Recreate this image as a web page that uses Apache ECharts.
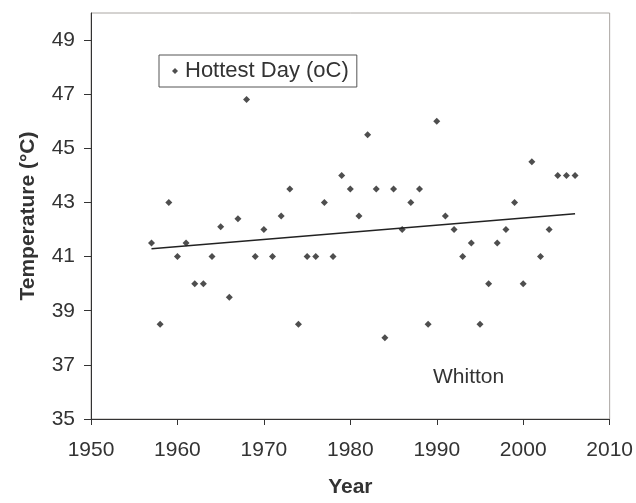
<!DOCTYPE html>
<html>
<head>
<meta charset="utf-8">
<script src="https://cdn.jsdelivr.net/npm/echarts@6/dist/echarts.min.js"></script>
<style>html,body{margin:0;padding:0;background:#fff}#c{width:636px;height:503px}</style>
</head>
<body>
<div id="c"></div>
<script>
const years = [1957,1958,1959,1960,1961,1962,1963,1964,1965,1966,1967,1968,1969,1970,1971,1972,1973,1974,1975,1976,1977,1978,1979,1980,1981,1982,1983,1984,1985,1986,1987,1988,1989,1990,1991,1992,1993,1994,1995,1996,1997,1998,1999,2000,2001,2002,2003,2004,2005,2006];
const hottest = [41.5,38.5,43,41,41.5,40,40,41,42.1,39.5,42.4,46.8,41,42,41,42.5,43.5,38.5,41,41,43,41,44,43.5,42.5,45.5,43.5,38,43.5,42,43,43.5,38.5,46,42.5,42,41,41.5,38.5,40,41.5,42,43,40,44.5,41,42,44,44,44];
const yTicks = [35,37,39,41,43,45,47,49];
const xTicks = [1950,1960,1970,1980,1990,2000,2010];
const seriesName = 'Hottest Day (oC)';
const siteLabel = 'Whitton';

// least-squares trend line
const n = years.length;
const mx = years.reduce((a,b)=>a+b,0)/n;
const my = hottest.reduce((a,b)=>a+b,0)/n;
let sxy=0, sxx=0;
for (let i=0;i<n;i++){ sxy += (years[i]-mx)*(hottest[i]-my); sxx += (years[i]-mx)*(years[i]-mx); }
const slope = sxy/sxx, icpt = my - slope*mx;
const x0 = years[0], x1 = years[n-1];
const trend = [[x0, icpt+slope*x0],[x1, icpt+slope*x1]];

const FONT = 'Liberation Sans';
const chart = echarts.init(document.getElementById('c'), null, {renderer:'canvas'});
chart.setOption({
  animation:false,
  backgroundColor:'#fff',
  textStyle:{fontFamily:FONT},
  grid:{left:91,right:25,top:13,bottom:81,show:true,borderColor:'#aaa6a2',borderWidth:1,backgroundColor:'transparent'},
  legend:{
    left:159, top:55, padding:[5,8,5,13], borderColor:'#555', borderWidth:1,
    itemWidth:6, itemHeight:6, itemGap:0,
    textStyle:{fontSize:22,color:'#333',fontFamily:FONT,padding:[0,0,0,2]},
    data:[{name:seriesName, icon:'diamond'}]
  },
  xAxis:{
    type:'value', min:1950, max:2010, interval:10,
    name:'Year', nameLocation:'middle', nameGap:58,
    nameTextStyle:{fontSize:21,fontWeight:'bold',color:'#333',fontFamily:FONT},
    axisLine:{show:true,lineStyle:{color:'#333',width:1}},
    axisTick:{show:true,length:6,lineStyle:{color:'#333'},customValues:xTicks},
    axisLabel:{fontSize:21,color:'#333',margin:21,customValues:xTicks,formatter:v=>String(v)},
    splitLine:{show:false}
  },
  yAxis:{
    type:'value', min:35, max:50, interval:2,
    name:'Temperature (°C)', nameLocation:'middle', nameGap:52,
    nameTextStyle:{fontSize:21,fontWeight:'bold',color:'#333',fontFamily:FONT},
    axisLine:{show:true,lineStyle:{color:'#333',width:1}},
    axisTick:{show:true,length:7,lineStyle:{color:'#333'},customValues:yTicks},
    axisLabel:{fontSize:21,color:'#333',margin:16,customValues:yTicks,formatter:v=>String(v)},
    splitLine:{show:false}
  },
  graphic:[{type:'text',left:433,top:367,style:{text:siteLabel,fontSize:21,fill:'#333',fontFamily:FONT}}],
  series:[
    {name:seriesName,type:'scatter',symbol:'diamond',symbolSize:7,
     itemStyle:{color:'#222'},data:years.map((y,i)=>[y,hottest[i]])},
    {name:'trend',type:'line',symbol:'none',lineStyle:{color:'#222',width:1.6},data:trend,silent:true}
  ]
});
</script>
</body>
</html>
